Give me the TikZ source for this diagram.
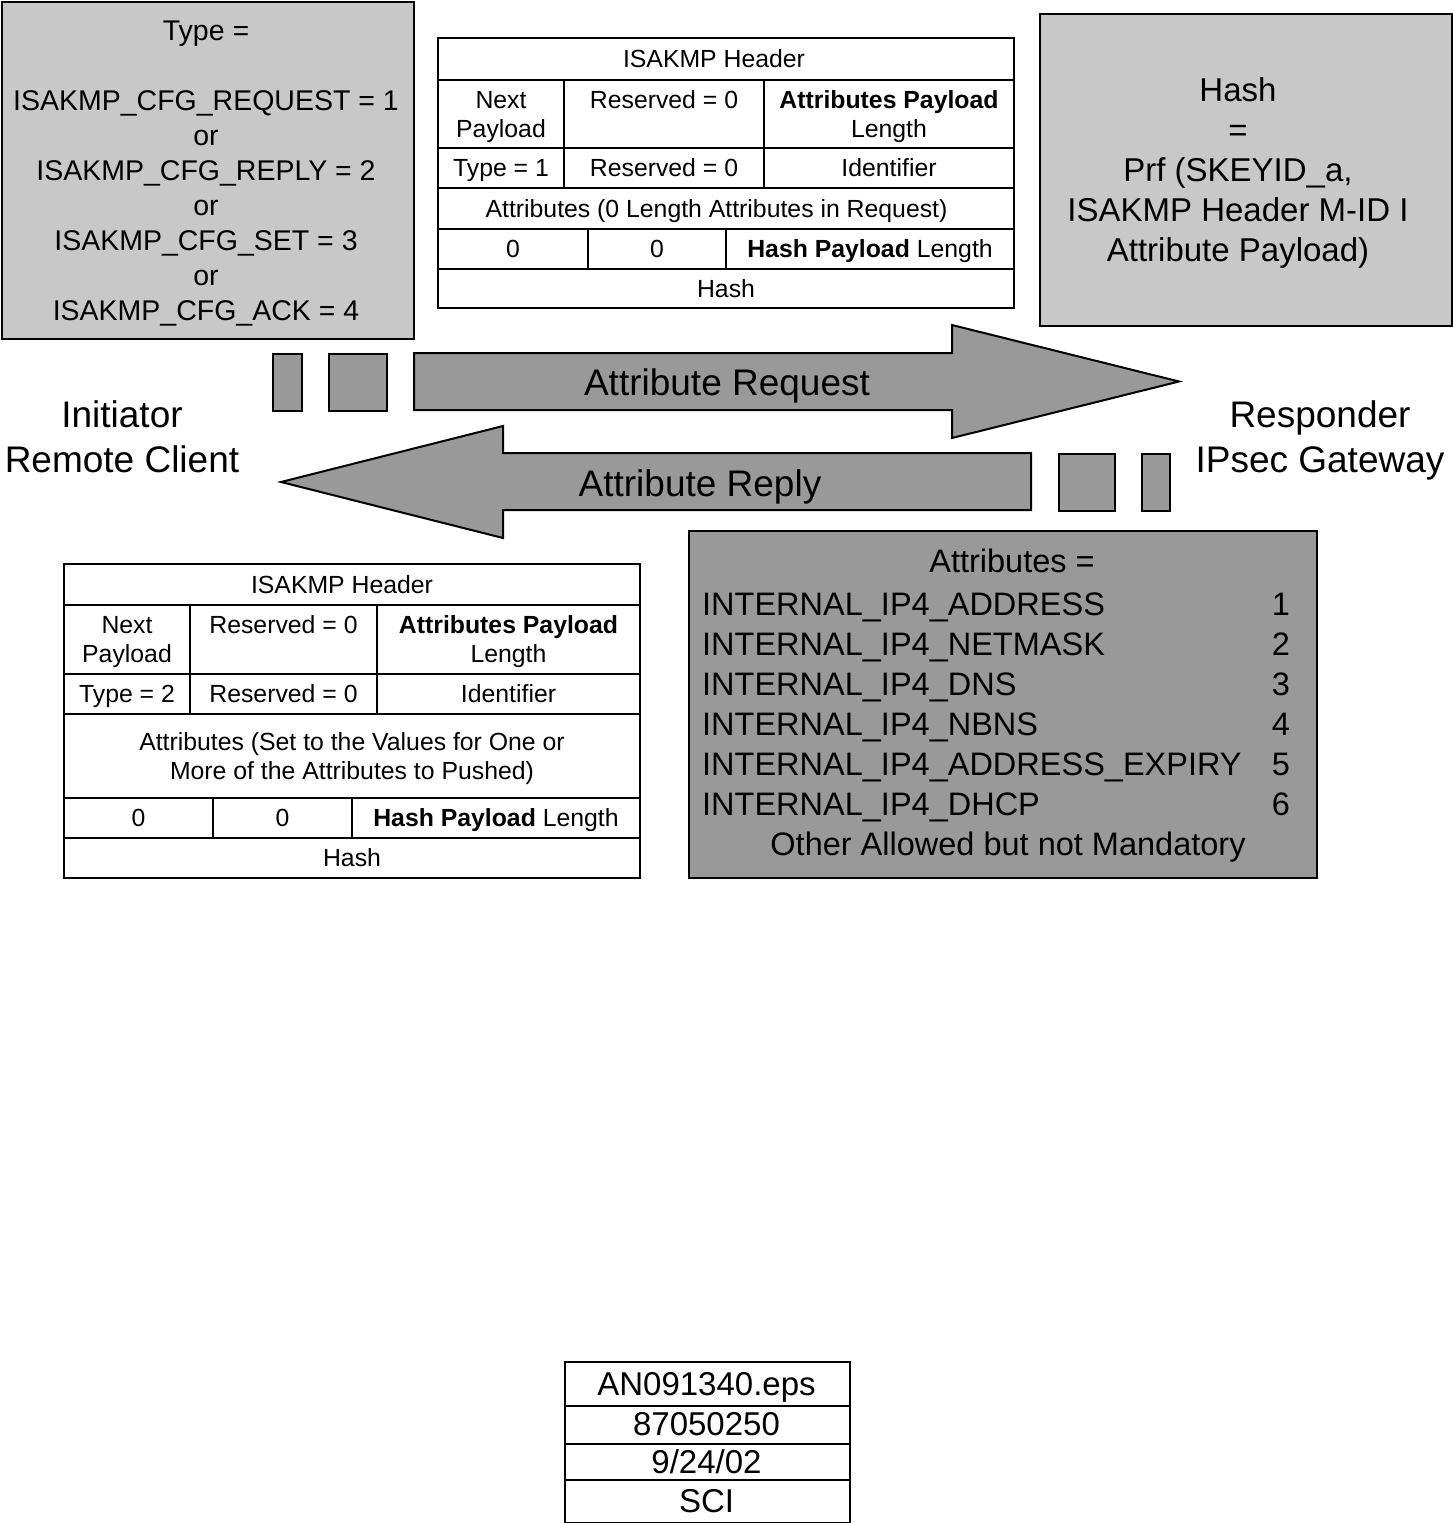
\documentclass[tikz,border=0pt]{standalone}
\usepackage{fontspec}
\setmainfont{Liberation Sans}
\definecolor{lightfill}{RGB}{200,200,200}
\definecolor{darkfill}{RGB}{153,153,153}
\newcommand\sk{\rule[-0.22em]{0pt}{1.136em}}
\newcommand\fsz[2]{\fontsize{#1}{#2}\selectfont\lineskiplimit=-1000pt\relax}
\newcommand\tcell[6]{\node[cell, minimum width={#4-#2}, minimum height={#5-#3}] (#1) at (#2,#3) {#6};}
\begin{document}
\begin{tikzpicture}[x=1pt,y=-1pt,
  cell/.style={draw, line width=2pt, anchor=north west, inner sep=0pt, align=center, font=\fsz{24.8}{29}},
  greybox/.style={draw, line width=2pt, fill=lightfill, anchor=north west, inner sep=0pt},
  darkbox/.style={draw, line width=2pt, fill=darkfill, anchor=north west, inner sep=0pt},
  bigarrow/.style={draw, line width=2pt, fill=darkfill, line join=miter},
  txt/.style={inner sep=0pt, align=center},
  bigtxt/.style={txt, font=\fsz{37}{45}},
  attrtxt/.style={inner sep=0pt, font=\fsz{32.5}{40}},
  stamptxt/.style={inner sep=0pt, font=\fsz{33}{40}},
]
\useasboundingbox (0,0) rectangle (1452,1523);

% ---------- Type box (top left)
\node[greybox, minimum width=412, minimum height=337] (typebox) at (1,1) {};
\node[txt, font=\fsz{28.5}{35}] (typetext) at (206,171)
  {\sk Type =\\[35pt]\sk ISAKMP\_CFG\_REQUEST = 1\\\sk or\\\sk ISAKMP\_CFG\_REPLY = 2\\\sk or\\\sk ISAKMP\_CFG\_SET = 3\\\sk or\\\sk ISAKMP\_CFG\_ACK = 4};

% ---------- Hash box (top right)
\node[greybox, minimum width=412, minimum height=312] (hashbox) at (1039,13) {};
\node[txt, font=\fsz{33}{40}] (hashtext) at (1238,170.5)
  {\sk Hash\\\sk =\\\sk Prf (SKEYID\_a,\\\sk ISAKMP Header M-ID I\\\sk Attribute Payload)};

% ---------- Request table (top)
\tcell{t1h}{437}{37}{1013}{79}{\sk ISAKMP Header\rule{24pt}{0pt}}
\tcell{t1np}{437}{79}{563}{147}{\sk Next\\\sk Payload}
\tcell{t1r}{563}{79}{763}{147}{\sk Reserved = 0\\\sk}
\tcell{t1apl}{763}{79}{1013}{147}{\sk\textbf{Attributes Payload}\\\sk Length}
\tcell{t1ty}{437}{147}{563}{187}{\sk Type = 1}
\tcell{t1rr}{563}{147}{763}{187}{\sk Reserved = 0}
\tcell{t1id}{763}{147}{1013}{187}{\sk Identifier}
\tcell{t1at}{437}{187}{1013}{228}{\sk Attributes (0 Length Attributes in Request)\rule{19pt}{0pt}}
\tcell{t1za}{437}{228}{587}{268}{\sk 0}
\tcell{t1zb}{587}{228}{725}{268}{\sk 0}
\tcell{t1hpl}{725}{228}{1013}{268}{\sk\textbf{Hash Payload} Length}
\tcell{t1hash}{437}{268}{1013}{307}{\sk Hash}

% ---------- Arrows
\draw[bigarrow] (414,353) -- (952,353) -- (952,325) -- (1179,381.5) -- (952,438) -- (952,410) -- (414,410) -- cycle;
\node[bigtxt] (reqlabel) at (727,383) {\sk Attribute Request};
\draw[bigarrow] (1031,453) -- (503,453) -- (503,426) -- (281,482) -- (503,538) -- (503,510) -- (1031,510) -- cycle;
\node[bigtxt] (replabel) at (700,484) {\sk Attribute Reply};

\node[darkbox, minimum width=29, minimum height=57] (lsqa) at (272,353) {};
\node[darkbox, minimum width=58, minimum height=57] (lsqb) at (328,353) {};
\node[darkbox, minimum width=56, minimum height=57] (rsqa) at (1058,453) {};
\node[darkbox, minimum width=28, minimum height=57] (rsqb) at (1141,453) {};

% ---------- End points
\node[bigtxt] (initiator) at (122,437.5) {\sk Initiator\\\sk Remote Client};
\node[bigtxt] (responder) at (1320,437.5) {\sk Responder\\\sk IPsec Gateway};

% ---------- Reply table (bottom left)
\tcell{t2h}{63}{563}{639}{604}{\sk ISAKMP Header\rule{20pt}{0pt}}
\tcell{t2np}{63}{604}{189}{673}{\sk Next\\\sk Payload}
\tcell{t2r}{189}{604}{376}{673}{\sk Reserved = 0\\\sk}
\tcell{t2apl}{376}{604}{639}{673}{\sk\textbf{Attributes Payload}\\\sk Length}
\tcell{t2ty}{63}{673}{189}{713}{\sk Type = 2}
\tcell{t2rr}{189}{673}{376}{713}{\sk Reserved = 0}
\tcell{t2id}{376}{673}{639}{713}{\sk Identifier}
\tcell{t2at}{63}{713}{639}{797}{\sk Attributes (Set to the Values for One or\\\sk More of the Attributes to Pushed)}
\tcell{t2za}{63}{797}{212}{837}{\sk 0}
\tcell{t2zb}{212}{797}{351}{837}{\sk 0}
\tcell{t2hpl}{351}{797}{639}{837}{\sk\textbf{Hash Payload} Length}
\tcell{t2hash}{63}{837}{639}{877}{\sk Hash}

% ---------- Attributes box (bottom right)
\node[darkbox, minimum width=628, minimum height=347] (attrbox) at (688,530) {};
\node[attrtxt] (attrtitle) at (1012,561) {\sk Attributes =};
\node[attrtxt, anchor=west] (ana) at (702,604) {\sk INTERNAL\_IP4\_ADDRESS};
\node[attrtxt, anchor=west] (anb) at (702,644) {\sk INTERNAL\_IP4\_NETMASK};
\node[attrtxt, anchor=west] (anc) at (702,684) {\sk INTERNAL\_IP4\_DNS};
\node[attrtxt, anchor=west] (and) at (702,724) {\sk INTERNAL\_IP4\_NBNS};
\node[attrtxt, anchor=west] (ane) at (702,764) {\sk INTERNAL\_IP4\_ADDRESS\_EXPIRY};
\node[attrtxt, anchor=west] (anf) at (702,804) {\sk INTERNAL\_IP4\_DHCP};
\node[attrtxt] (ava) at (1281,604) {\sk 1};
\node[attrtxt] (avb) at (1281,644) {\sk 2};
\node[attrtxt] (avc) at (1281,684) {\sk 3};
\node[attrtxt] (avd) at (1281,724) {\sk 4};
\node[attrtxt] (ave) at (1281,764) {\sk 5};
\node[attrtxt] (avf) at (1281,804) {\sk 6};
\node[attrtxt] (attrother) at (1008,844) {\sk Other Allowed but not Mandatory};

% ---------- Stamp (bottom)
\tcell{sta}{564}{1361}{849}{1405}{}
\tcell{stb}{564}{1405}{849}{1443}{}
\tcell{stc}{564}{1443}{849}{1479}{}
\tcell{std}{564}{1479}{849}{1522}{}
\node[stamptxt] (statxt) at (706.5,1384) {\sk AN091340.eps};
\node[stamptxt] (stbtxt) at (706.5,1423.5) {\sk 87050250};
\node[stamptxt] (stctxt) at (706.5,1462) {\sk 9/24/02};
\node[stamptxt] (stdtxt) at (706.5,1501) {\sk SCI};
\end{tikzpicture}
\end{document}
